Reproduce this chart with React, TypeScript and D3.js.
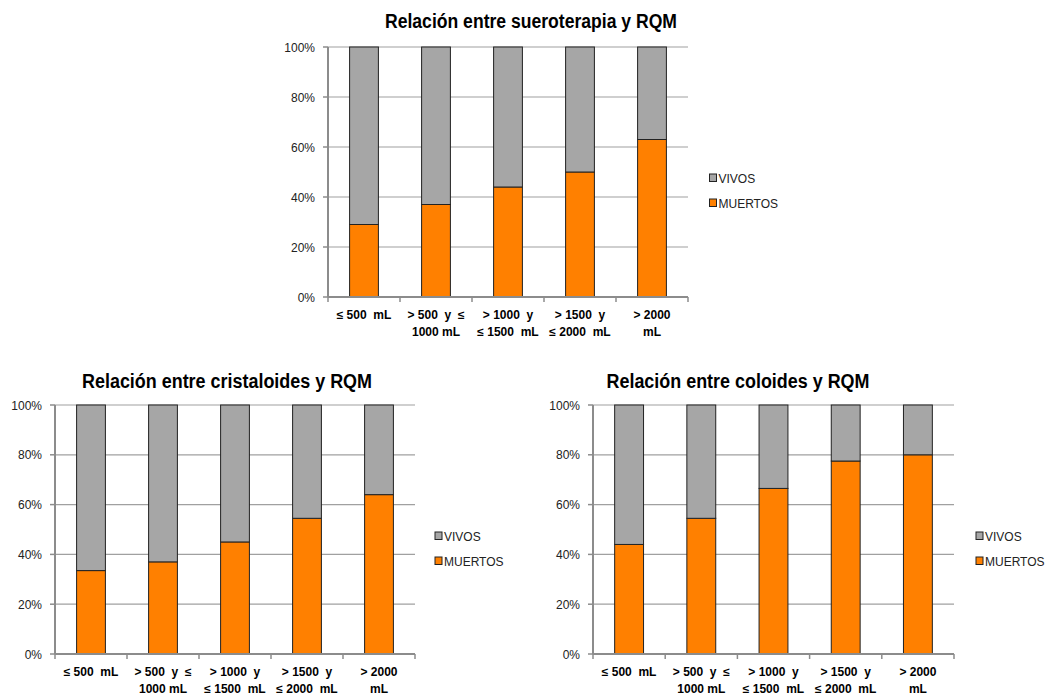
import React from "react";
import * as d3 from "d3";

// Fluid-volume categories (each label wraps onto up to two lines)
const categories: string[][] = [
  ["≤ 500  mL"],
  ["> 500  y  ≤", "1000 mL"],
  ["> 1000  y", "≤ 1500  mL"],
  ["> 1500  y", "≤ 2000  mL"],
  ["> 2000", "mL"],
];

const seriesNames = ["MUERTOS", "VIVOS"];
const seriesColors: Record<string, string> = { MUERTOS: "#FF8000", VIVOS: "#A6A6A6" };

// Percentages per category
const sueroterapiaMuertos = [29, 37, 44, 50, 63];
const sueroterapiaVivos = [71, 63, 56, 50, 37];
const cristaloidesMuertos = [33.5, 37, 45, 54.5, 64];
const cristaloidesVivos = [66.5, 63, 55, 45.5, 36];
const coloidesMuertos = [44, 54.5, 66.5, 77.5, 80];
const coloidesVivos = [56, 45.5, 33.5, 22.5, 20];

const yTicks = [0, 0.2, 0.4, 0.6, 0.8, 1];

const FONT = "'Liberation Sans', Arial, sans-serif";

type ChartProps = {
  title: string;
  titleX: number;
  titleY: number;
  titleLen: number;
  muertos: number[];
  vivos: number[];
  x0: number;
  x1: number;
  yTop: number;
  yBot: number;
  legendX: number;
  legendY: number;
};

function StackedChart(p: ChartProps) {
  const rows = categories.map((c, i) => ({ key: i, MUERTOS: p.muertos[i], VIVOS: p.vivos[i] }));
  const stacked = d3.stack<any>().keys(seriesNames).offset(d3.stackOffsetExpand)(rows);
  const x = d3
    .scaleBand<number>()
    .domain(categories.map((_, i) => i))
    .range([p.x0, p.x1])
    .paddingInner(0.6)
    .paddingOuter(0.3);
  const y = d3.scaleLinear().domain([0, 1]).range([p.yBot, p.yTop]);
  const step = x.step();
  const fmt = d3.format(".0%");

  return (
    <g>
      <text
        x={p.titleX}
        y={p.titleY}
        textAnchor="middle"
        fontFamily={FONT}
        fontWeight="bold"
        fontSize={19.5}
        fill="#000"
        textLength={p.titleLen}
        lengthAdjust="spacingAndGlyphs"
      >
        {p.title}
      </text>

      {/* gridlines */}
      {yTicks.slice(1).map((t) => (
        <line key={t} x1={p.x0} x2={p.x1} y1={y(t)} y2={y(t)} stroke="#A0A0A0" strokeWidth={1.2} />
      ))}

      {/* y ticks and labels */}
      {yTicks.map((t) => (
        <g key={"yt" + t}>
          <line x1={p.x0 - 5} x2={p.x0} y1={y(t)} y2={y(t)} stroke="#8C8C8C" strokeWidth={1.5} />
          <text x={p.x0 - 13} y={y(t) + 4.5} textAnchor="end" fontFamily={FONT} fontSize={12} fill="#222">
            {fmt(t)}
          </text>
        </g>
      ))}

      {/* bars */}
      {stacked.map((s) =>
        s.map((d, i) => (
          <rect
            key={s.key + i}
            x={x(i)}
            width={x.bandwidth()}
            y={y(d[1])}
            height={y(d[0]) - y(d[1])}
            fill={seriesColors[s.key]}
            stroke="#222"
            strokeWidth={1}
          />
        ))
      )}

      {/* axes */}
      <line x1={p.x0} x2={p.x0} y1={p.yTop} y2={p.yBot} stroke="#8C8C8C" strokeWidth={2} />
      <line x1={p.x0} x2={p.x1} y1={p.yBot} y2={p.yBot} stroke="#8C8C8C" strokeWidth={2} />
      {d3.range(categories.length + 1).map((k) => (
        <line
          key={"xt" + k}
          x1={p.x0 + k * step}
          x2={p.x0 + k * step}
          y1={p.yBot}
          y2={p.yBot + 5}
          stroke="#8C8C8C"
          strokeWidth={1.5}
        />
      ))}

      {/* category labels */}
      {categories.map((lines, i) => (
        <text
          key={"xl" + i}
          x={(x(i) as number) + x.bandwidth() / 2}
          y={p.yBot + 21.5}
          textAnchor="middle"
          fontFamily={FONT}
          fontWeight="bold"
          fontSize={12}
          fill="#000"
          style={{ whiteSpace: "pre" }}
        >
          {lines.map((l, j) => (
            <tspan key={j} x={(x(i) as number) + x.bandwidth() / 2} dy={j === 0 ? 0 : 17}>
              {l}
            </tspan>
          ))}
        </text>
      ))}

      {/* legend */}
      {["VIVOS", "MUERTOS"].map((name, k) => (
        <g key={name} transform={`translate(${p.legendX},${p.legendY + k * 25})`}>
          <rect x={0} y={-4} width={7} height={7.5} fill={seriesColors[name]} stroke="#222" strokeWidth={1} />
          <text x={9} y={5} fontFamily={FONT} fontSize={12} fill="#222">
            {name}
          </text>
        </g>
      ))}
    </g>
  );
}

export default function App() {
  return (
    <svg width={1054} height={697} style={{ position: "absolute", left: 0, top: 0, background: "#fff" }}>
      <rect width={1054} height={697} fill="#fff" />
      <StackedChart
        title="Relación entre sueroterapia y RQM"
        titleX={531}
        titleY={27.5}
        titleLen={292}
        muertos={sueroterapiaMuertos}
        vivos={sueroterapiaVivos}
        x0={328}
        x1={688}
        yTop={47}
        yBot={297}
        legendX={709.5}
        legendY={178}
      />
      <StackedChart
        title="Relación entre cristaloides y RQM"
        titleX={227}
        titleY={388}
        titleLen={290}
        muertos={cristaloidesMuertos}
        vivos={cristaloidesVivos}
        x0={55}
        x1={415}
        yTop={405}
        yBot={654}
        legendX={435}
        legendY={536}
      />
      <StackedChart
        title="Relación entre coloides y RQM"
        titleX={738}
        titleY={388}
        titleLen={263}
        muertos={coloidesMuertos}
        vivos={coloidesVivos}
        x0={593}
        x1={954}
        yTop={405}
        yBot={654}
        legendX={976}
        legendY={536}
      />
    </svg>
  );
}
